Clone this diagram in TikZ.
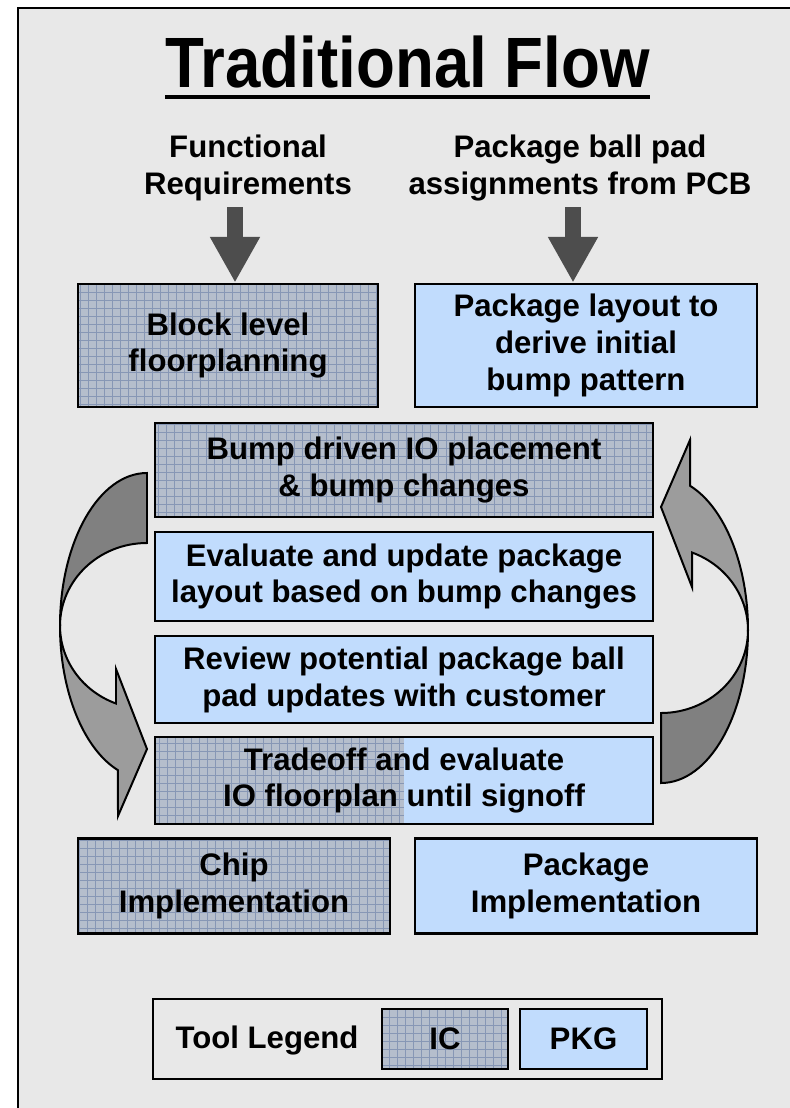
\documentclass[tikz,border=0pt]{standalone}
\usepackage{fontspec}
\setmainfont{Liberation Sans}
\usetikzlibrary{arrows.meta,calc}
\definecolor{bgray}{HTML}{E8E8E8}
\definecolor{pkgblue}{HTML}{C1DCFD}
\definecolor{icbase}{HTML}{B5BECC}
\definecolor{icline}{HTML}{8797B5}
\definecolor{arrowgray}{HTML}{4D4D4D}
\definecolor{darkarr}{HTML}{808080}
\definecolor{lightarr}{HTML}{9C9C9C}
\begin{document}
\begin{tikzpicture}[x=0.03cm,y=-0.03cm,
  txt/.style={font=\fontsize{26.6}{31.5}\selectfont\bfseries, align=center, inner sep=0pt},
  icgrid/.style={draw=icline, line width=0.6pt},
  boxbase/.style={txt, draw=black, line width=2.4pt},
  icbox/.style={boxbase, fill=icbase, path picture={\draw[icgrid] (path picture bounding box.south west) grid[step=0.24cm] (path picture bounding box.north east);}},
  pkgbox/.style={boxbase, fill=pkgblue},
  halfbox/.style={boxbase, fill=pkgblue, path picture={\fill[icbase] (path picture bounding box.south west) rectangle (path picture bounding box.north); \draw[icgrid] (path picture bounding box.south west) grid[step=0.24cm] (path picture bounding box.north);}},
  bigarrow/.style={draw=arrowgray, line width=14.5pt, -{Triangle[width=40pt,length=39pt]}},
  crvdark/.style={fill=darkarr, draw=black, line width=1.7pt},
  crvlight/.style={fill=lightarr, draw=black, line width=1.7pt},
]
\useasboundingbox (0,0) rectangle (790,1108);
\clip (0,0) rectangle (790,1108);
\fill[white] (0,0) rectangle (790,1108);
\draw[fill=bgray, line width=1.7pt] (18,8) rectangle (820,1140);

% title
\node[font=\fontsize{54.3}{60}\selectfont\bfseries, inner sep=0pt, anchor=base] (title) at (407.5,87) {\scalebox{1}[1.12]{Traditional Flow}};
\draw[line width=3.4pt] ($(title.base west)+(0,10)$) -- ($(title.base east)+(0,10)$);

% headers
\node[txt] (h1) at (248,168) {Functional\\Requirements};
\node[txt] (h2) at (580,168) {Package ball pad\\assignments from PCB};

% boxes
\node[icbox, minimum width=9cm, minimum height=3.69cm] (b1) at (228,345.5) {Block level\\floorplanning};
\node[pkgbox, minimum width=10.26cm, minimum height=3.69cm] (b2) at (586,345.5) {Package layout to\\derive initial\\bump pattern};
\node[icbox, minimum width=14.94cm, minimum height=2.82cm] (b3) at (404,470) {Bump driven IO placement\\\& bump changes};
\node[pkgbox, minimum width=14.94cm, minimum height=2.67cm] (b4) at (404,576.5) {Evaluate and update package\\layout based on bump changes};
\node[pkgbox, minimum width=14.94cm, minimum height=2.61cm] (b5) at (404,679.5) {Review potential package ball\\pad updates with customer};
\node[halfbox, minimum width=14.94cm, minimum height=2.61cm] (b6) at (404,780.5) {Tradeoff and evaluate\\IO floorplan until signoff};
\node[icbox, minimum width=9.36cm, minimum height=2.85cm] (b7) at (234,886) {Chip\\Implementation};
\node[pkgbox, minimum width=10.26cm, minimum height=2.85cm] (b8) at (586,886) {Package\\Implementation};

% straight arrows
\coordinate (a1) at (235,207);
\coordinate (a2) at (573,207);
\draw[bigarrow] (a1) -- (a1 |- b1.north);
\draw[bigarrow] (a2) -- (a2 |- b2.north);

% right curved arrow
\filldraw[crvdark] (661,783) arc[start angle=90, end angle=0, x radius=87, y radius=153]
  arc[start angle=0, end angle=90, x radius=87, y radius=83] -- cycle;
\filldraw[crvlight] (748,630) arc[start angle=0, end angle=-70.5, x radius=87, y radius=153]
  -- (690,440) -- (661,507) -- (692,587) -- (692,552.5)
  arc[start angle=-69.1, end angle=0, x radius=87, y radius=83] -- cycle;

% left curved arrow (rotated copy)
\begin{scope}[rotate around={180:(404,628)}]
\filldraw[crvdark] (661,783) arc[start angle=90, end angle=0, x radius=87, y radius=153]
  arc[start angle=0, end angle=90, x radius=87, y radius=83] -- cycle;
\filldraw[crvlight] (748,630) arc[start angle=0, end angle=-70.5, x radius=87, y radius=153]
  -- (690,440) -- (661,507) -- (692,587) -- (692,552.5)
  arc[start angle=-69.1, end angle=0, x radius=87, y radius=83] -- cycle;
\end{scope}

% legend
\node[draw=black, line width=1.3pt, minimum width=15.27cm, minimum height=2.4cm] (leg) at (407.5,1039) {};
\node[txt] (legt) at (267,1040) {Tool Legend};
\node[icbox, line width=1.8pt, minimum width=3.78cm, minimum height=1.8cm] (lic) at (445,1039) {IC};
\node[pkgbox, line width=1.8pt, minimum width=3.81cm, minimum height=1.8cm] (lpkg) at (583.5,1039) {PKG};
\end{tikzpicture}
\end{document}
